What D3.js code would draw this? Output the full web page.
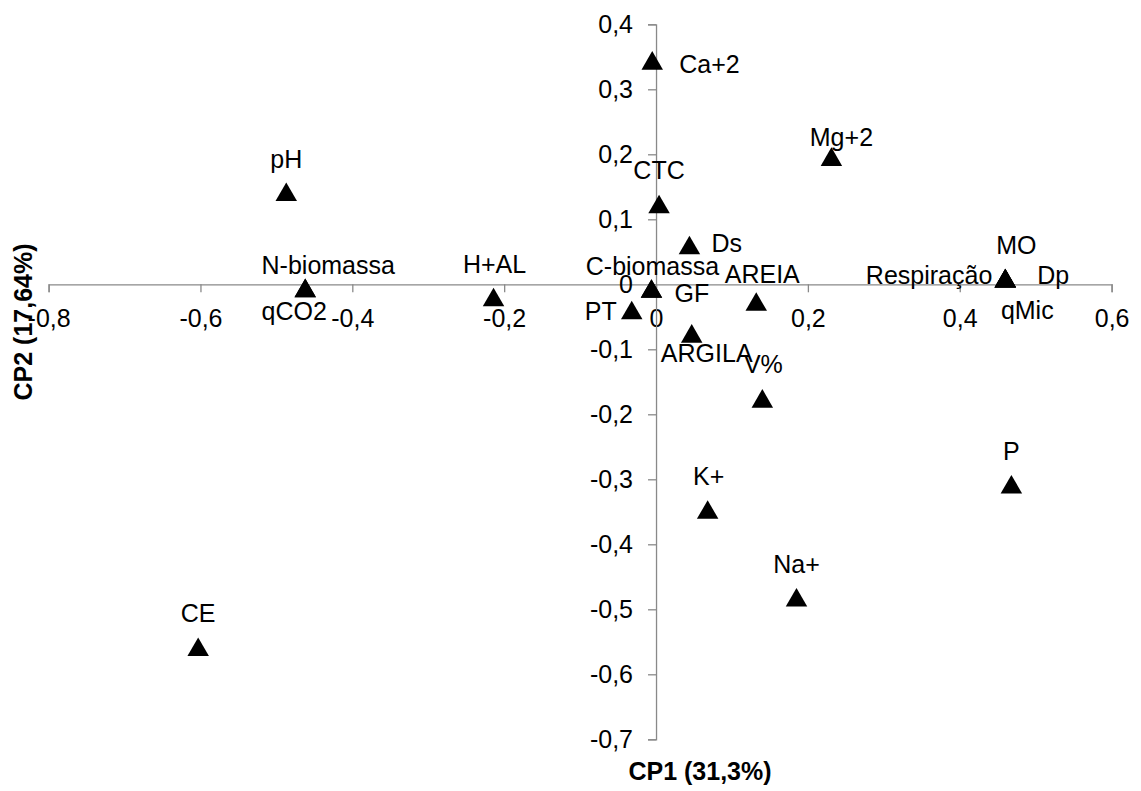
<!DOCTYPE html>
<html><head><meta charset="utf-8">
<script src="https://cdn.jsdelivr.net/npm/d3@7"></script>
<style>
html,body{margin:0;padding:0;background:#fff;}
text{font-family:"Liberation Sans",Arial,sans-serif;fill:#000;}
</style></head>
<body>
<svg id="chart" width="1141" height="791"></svg>
<script>
// ---- data ----
const variables = ["Ca+2","Mg+2","CTC","pH","Ds","C-biomassa","GF","PT","H+AL","AREIA","ARGILA","V%","K+","Na+","P","CE","N-biomassa","qCO2","MO","Respiração","Dp","qMic"];
const cp1 = [-0.005,0.231,0.004,-0.487,0.044,-0.006,-0.006,-0.032,-0.214,0.132,0.047,0.140,0.068,0.185,0.468,-0.603,-0.462,-0.462,0.460,0.460,0.460,0.460];
const cp2 = [0.342,0.194,0.121,0.140,0.058,-0.009,-0.009,-0.042,-0.022,-0.029,-0.078,-0.178,-0.349,-0.484,-0.310,-0.560,-0.008,-0.008,0.007,0.007,0.007,0.007];
const xTicks = [-0.8,-0.6,-0.4,-0.2,0,0.2,0.4,0.6];
const yTicks = [0.4,0.3,0.2,0.1,0,-0.1,-0.2,-0.3,-0.4,-0.5,-0.6,-0.7];
const xTitle = "CP1 (31,3%)";
const yTitle = "CP2 (17,64%)";

// ---- label placement (layout only): [dx, dy(baseline), anchor] ----
const labelPlace = {
  "Ca+2":[27,11,"start"], "Mg+2":[10,-12,"middle"], "CTC":[0,-27,"middle"], "pH":[0,-25,"middle"],
  "Ds":[22,5,"start"], "C-biomassa":[1,-15,"middle"], "GF":[23,12,"start"], "PT":[-15,8,"end"],
  "H+AL":[1,-26,"middle"], "AREIA":[6,-20,"middle"], "ARGILA":[15,27,"middle"], "V%":[1,-27,"middle"],
  "K+":[1,-26,"middle"], "Na+":[0,-26,"middle"], "P":[0,-26,"middle"], "CE":[0,-26,"middle"],
  "N-biomassa":[23,-16,"middle"], "qCO2":[-11,30,"middle"], "MO":[11,-26,"middle"],
  "Respiração":[-13,4,"end"], "Dp":[32,4,"start"], "qMic":[22,39,"middle"]
};

const svg = d3.select("#chart");
const x = d3.scaleLinear().domain([-0.8,0.6]).range([48.6,1111.6]);
const y = d3.scaleLinear().domain([-0.7,0.4]).range([739.3,24.3]);
const fmt = v => (Math.abs(v)<1e-9 ? "0" : d3.format(".1f")(v).replace(".",",").replace("−","-"));
const axisColor = "#898989";
const fs = 25;

// x axis at y=0
const gx = svg.append("g").attr("transform",`translate(0,${y(0)})`)
  .call(d3.axisBottom(x).tickValues(xTicks).tickSize(8).tickPadding(17).tickFormat(fmt));
gx.select(".domain").attr("stroke",axisColor).attr("stroke-width",1.3);
gx.selectAll(".tick line").attr("stroke",axisColor).attr("stroke-width",1.3);
gx.selectAll(".tick text").attr("font-size",fs).attr("font-family","Liberation Sans, Arial, sans-serif").attr("fill","#000");

// y axis at x=0
const gy = svg.append("g").attr("transform",`translate(${x(0)},0)`)
  .call(d3.axisLeft(y).tickValues(yTicks).tickSize(8).tickPadding(15).tickFormat(fmt));
gy.select(".domain").attr("stroke",axisColor).attr("stroke-width",1.3);
gy.selectAll(".tick line").attr("stroke",axisColor).attr("stroke-width",1.3);
gy.selectAll(".tick text").attr("font-size",fs).attr("font-family","Liberation Sans, Arial, sans-serif").attr("fill","#000").attr("dy","0.34em");

// points
const pts = variables.map((v,i)=>({name:v,x:cp1[i],y:cp2[i]}));
const tri = d3.symbol().type(d3.symbolTriangle).size(200);
svg.append("g").selectAll("path").data(pts).join("path")
  .attr("d",tri)
  .attr("transform",d=>`translate(${x(d.x)},${y(d.y)+1.5})`)
  .attr("fill","#000");

// labels
svg.append("g").selectAll("text").data(pts).join("text")
  .attr("x",d=>x(d.x)+labelPlace[d.name][0])
  .attr("y",d=>y(d.y)+labelPlace[d.name][1])
  .attr("text-anchor",d=>labelPlace[d.name][2])
  .attr("font-size",fs)
  .text(d=>d.name);

// axis titles
svg.append("text").attr("x",700).attr("y",780).attr("text-anchor","middle")
  .attr("font-size",fs).attr("font-weight","bold").text(xTitle);
svg.append("text").attr("transform","translate(32,322) rotate(-90)").attr("text-anchor","middle")
  .attr("font-size",fs).attr("font-weight","bold").text(yTitle);
</script>
</body></html>
